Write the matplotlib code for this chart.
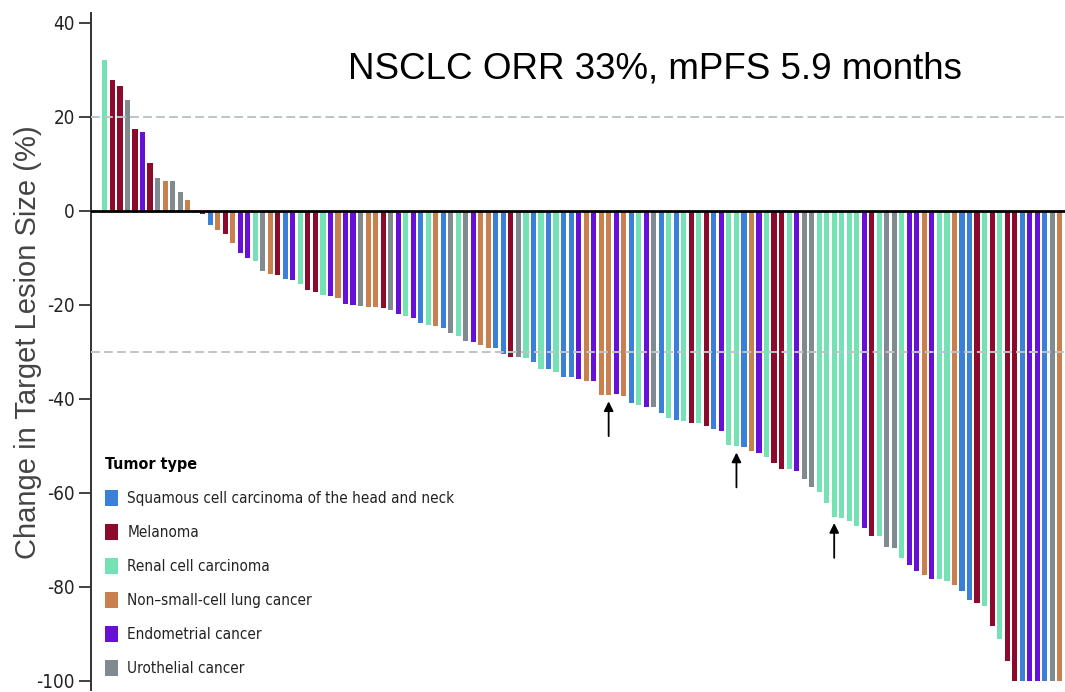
import matplotlib
matplotlib.use('Agg')
import numpy as np
import matplotlib.pyplot as plt
from matplotlib import font_manager
from matplotlib.patches import Patch

# best percent change from baseline in target lesions, one bar per patient
change = [32.0, 27.8, 26.5, 23.6, 17.4, 16.8, 10.2, 7.0, 6.2, 6.2, 4.0, 2.3, 0.0,
          -0.8, -3.0, -4.2, -4.9, -6.9, -9.0, -10.2, -10.7, -12.9, -13.4, -13.7,
          -14.5, -14.8, -15.7, -16.9, -17.4, -18.0, -18.2, -18.6, -19.8, -20.1,
          -20.3, -20.5, -20.6, -20.8, -21.1, -22.1, -22.5, -22.8, -23.9, -24.3,
          -24.6, -24.9, -26.1, -26.6, -27.8, -28.0, -28.6, -29.2, -29.3, -30.5,
          -31.1, -31.1, -31.4, -32.3, -33.7, -33.7, -34.4, -35.5, -35.5, -35.8,
          -36.3, -36.3, -39.2, -39.2, -39.1, -39.5, -41.0, -41.3, -41.9, -41.9,
          -43.0, -44.1, -44.6, -44.8, -45.3, -45.3, -45.9, -46.4, -46.9, -49.9,
          -50.1, -50.3, -51.1, -51.6, -52.4, -53.8, -54.9, -54.9, -55.4, -57.1,
          -58.8, -59.8, -62.3, -65.1, -65.5, -66.0, -67.2, -67.6, -69.3, -69.3,
          -71.5, -71.8, -73.9, -75.4, -76.6, -77.5, -78.5, -78.5, -78.9, -79.6,
          -81.0, -82.8, -83.5, -84.2, -88.4, -91.2, -95.8, -100, -100, -100,
          -100, -100, -100, -100]

tumor = ['RCC', 'MEL', 'MEL', 'URO', 'MEL', 'END', 'MEL', 'URO', 'NSCLC', 'URO',
         'URO', 'NSCLC', 'NSCLC', 'MEL', 'SCCHN', 'NSCLC', 'MEL', 'NSCLC', 'END',
         'END', 'RCC', 'URO', 'NSCLC', 'MEL', 'SCCHN', 'END', 'RCC', 'MEL', 'MEL',
         'RCC', 'END', 'NSCLC', 'END', 'END', 'URO', 'NSCLC', 'NSCLC', 'MEL', 'URO',
         'END', 'RCC', 'END', 'SCCHN', 'RCC', 'NSCLC', 'SCCHN', 'URO', 'RCC', 'URO',
         'END', 'NSCLC', 'NSCLC', 'SCCHN', 'SCCHN', 'MEL', 'URO', 'RCC', 'SCCHN',
         'RCC', 'SCCHN', 'RCC', 'SCCHN', 'SCCHN', 'END', 'NSCLC', 'END', 'NSCLC',
         'NSCLC', 'END', 'NSCLC', 'SCCHN', 'RCC', 'END', 'URO', 'SCCHN', 'RCC',
         'SCCHN', 'RCC', 'MEL', 'RCC', 'MEL', 'SCCHN', 'END', 'RCC', 'RCC', 'SCCHN',
         'NSCLC', 'END', 'RCC', 'MEL', 'MEL', 'RCC', 'END', 'URO', 'URO', 'RCC',
         'RCC', 'RCC', 'RCC', 'RCC', 'RCC', 'END', 'MEL', 'RCC', 'URO', 'URO', 'RCC',
         'END', 'END', 'NSCLC', 'END', 'RCC', 'RCC', 'NSCLC', 'SCCHN', 'SCCHN',
         'MEL', 'RCC', 'MEL', 'RCC', 'MEL', 'MEL', 'SCCHN', 'END', 'END', 'SCCHN',
         'URO', 'NSCLC']

tumor_order = ['SCCHN', 'MEL', 'RCC', 'NSCLC', 'END', 'URO']
tumor_labels = ['Squamous cell carcinoma of the head and neck', 'Melanoma',
                'Renal cell carcinoma', 'Non\u2013small-cell lung cancer',
                'Endometrial cancer', 'Urothelial cancer']
tumor_colors = ['#3a80d8', '#8c0a2c', '#74e2b4', '#c9804f', '#6610d8', '#7f8b8e']

# patients marked with an arrow
marked = [67, 84, 97]

plt.rcParams['axes.unicode_minus'] = False

names = {f.name for f in font_manager.fontManager.ttflist}
cond = [f for f in font_manager.fontManager.ttflist
        if f.name == 'DejaVu Sans' and f.stretch == 'condensed']
if 'Liberation Sans Narrow' in names:
    narrow = dict(family='Liberation Sans Narrow')
elif cond:
    narrow = dict(family='DejaVu Sans', stretch='condensed')
else:
    narrow = dict(family='Roboto')

color_of = dict(zip(tumor_order, tumor_colors))
x = np.arange(len(change))

fig = plt.figure(figsize=(10.65, 6.92), dpi=100)
ax = fig.add_axes([0.0854, 0.003, 0.9146, 0.978])

ax.bar(x, change, width=0.68, color=[color_of[t] for t in tumor], linewidth=0, zorder=2)
ax.axhline(0, color='black', lw=2, zorder=3)
for ref in (20, -30):
    ax.axhline(ref, color='#bcc4c6', lw=1.4, linestyle=(0, (4.5, 2.2)), zorder=4)

for i in marked:
    tip = change[i] - 1.4
    ax.annotate('', xy=(i, tip), xytext=(i, tip - 7.4),
                arrowprops=dict(arrowstyle='-|>', color='black', lw=1.3,
                                mutation_scale=14, shrinkA=0, shrinkB=0))

ax.set_xlim(-1.86, 127.7)
ax.set_ylim(-102, 42)
ax.set_yticks(np.arange(-100, 41, 20))
ax.set_xticks([])
for side in ('top', 'right', 'bottom'):
    ax.spines[side].set_visible(False)
ax.spines['left'].set_color('#333333')
ax.spines['left'].set_linewidth(1.4)
ax.tick_params(axis='y', direction='out', length=9, width=1.3, color='#333333', pad=2.5)
for lab in ax.get_yticklabels():
    lab.set_fontsize(13.5)
    lab.set_fontfamily(narrow['family'])
    if 'stretch' in narrow:
        lab.set_fontstretch(narrow['stretch'])
    lab.set_color('#222222')

ax.set_ylabel('Change in Target Lesion Size (%)', fontsize=21,
              family='Liberation Sans', color='#444444')
ax.yaxis.set_label_coords(-0.05, 0.514)

ax.text(0.579, 0.917, 'NSCLC ORR 33%, mPFS 5.9 months', transform=ax.transAxes,
        ha='center', va='center', fontsize=26.5, family='Liberation Sans', color='black')

handles = [Patch(facecolor=c, edgecolor='none') for c in tumor_colors]
leg = ax.legend(handles, tumor_labels, title='Tumor type', loc='lower left',
                bbox_to_anchor=(0.0144, 0.0206), frameon=False, borderpad=0,
                borderaxespad=0, handlelength=0.85, handleheight=1.25,
                handletextpad=0.6, labelspacing=1.16, alignment='left',
                prop=font_manager.FontProperties(size=11, **narrow),
                title_fontproperties=font_manager.FontProperties(size=11.5, weight='bold', **narrow))
for t in leg.get_texts():
    t.set_color('#222222')

fig.savefig('out.png', dpi=100)
